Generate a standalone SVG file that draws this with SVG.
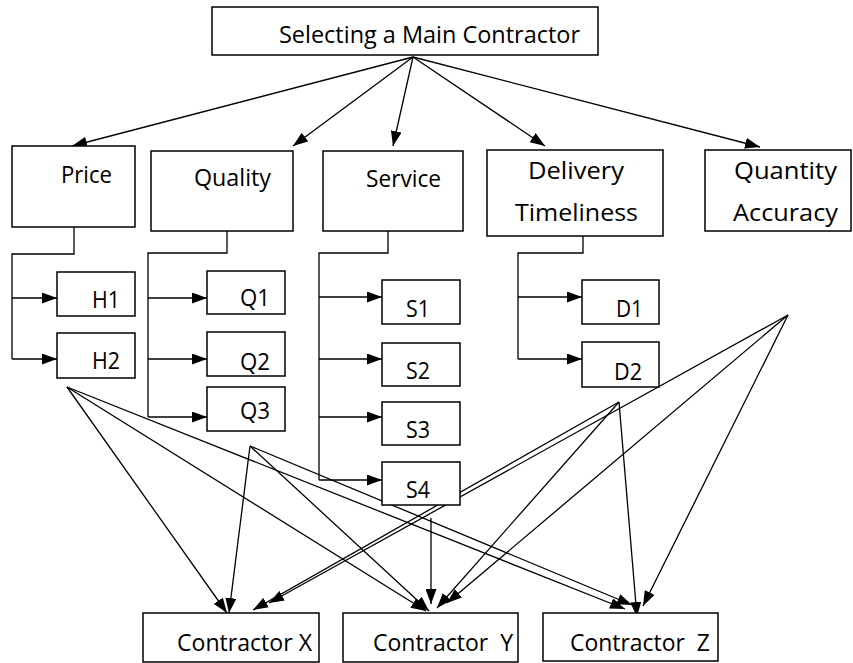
<svg xmlns="http://www.w3.org/2000/svg" width="853" height="663" viewBox="0 0 853 663">
  <style>
    .box { fill: #ffffff; stroke: #000000; stroke-width: 1.5; }
    .lbl { font-family: "Open Sans", "Noto Sans", "Liberation Sans", sans-serif; font-size: 24px; fill: #000000; }
    .wire { fill: none; stroke: #000000; stroke-width: 1.3; marker-end: url(#head); }
    .trunk { fill: none; stroke: #000000; stroke-width: 1.3; }
  </style>
  <defs>
    <marker id="head" viewBox="0 0 15 11" refX="15" refY="5.5" markerWidth="15" markerHeight="11" markerUnits="userSpaceOnUse" orient="auto">
      <path d="M0,0 L15,5.5 L0,11 z" fill="#000000"/>
    </marker>
  </defs>

  <rect width="853" height="663" fill="#ffffff"/>

  <!-- connectors -->
  <g id="connectors">
    <!-- goal to criteria -->
    <line class="wire" x1="413" y1="57" x2="72" y2="146"/>
    <line class="wire" x1="413" y1="57" x2="293" y2="146"/>
    <line class="wire" x1="413" y1="57" x2="393" y2="146"/>
    <line class="wire" x1="413" y1="57" x2="545" y2="146"/>
    <line class="wire" x1="413" y1="57" x2="760" y2="147"/>

    <!-- Price branch -->
    <path class="trunk" d="M74,227 V254 H12 V359"/>
    <line class="wire" x1="12" y1="298" x2="57" y2="298"/>
    <line class="wire" x1="12" y1="359" x2="57" y2="359"/>

    <!-- Quality branch -->
    <path class="trunk" d="M227,231 V253 H148 V417"/>
    <line class="wire" x1="148" y1="298" x2="207" y2="298"/>
    <line class="wire" x1="148" y1="359" x2="207" y2="359"/>
    <line class="wire" x1="148" y1="417" x2="207" y2="417"/>

    <!-- Service branch -->
    <path class="trunk" d="M388,231 V253 H319 V480"/>
    <line class="wire" x1="319" y1="297" x2="382" y2="297"/>
    <line class="wire" x1="319" y1="359" x2="382" y2="359"/>
    <line class="wire" x1="319" y1="417" x2="382" y2="417"/>
    <line class="wire" x1="319" y1="480" x2="382" y2="480"/>

    <!-- Delivery branch -->
    <path class="trunk" d="M583,236 V253 H518 V359"/>
    <line class="wire" x1="518" y1="297" x2="582" y2="297"/>
    <line class="wire" x1="518" y1="359" x2="582" y2="359"/>

    <!-- criteria to alternatives -->
    <line class="wire" x1="67" y1="387" x2="227" y2="613"/>
    <line class="wire" x1="67" y1="387" x2="426" y2="611"/>
    <line class="wire" x1="67" y1="387" x2="625" y2="609"/>

    <line class="wire" x1="250" y1="446" x2="229" y2="613"/>
    <line class="wire" x1="250" y1="446" x2="429" y2="611"/>
    <line class="wire" x1="250" y1="446" x2="632" y2="605"/>

    <line class="wire" x1="431" y1="518" x2="431" y2="604"/>

    <line class="wire" x1="619" y1="402" x2="253" y2="610"/>
    <line class="wire" x1="619" y1="402" x2="437" y2="608"/>
    <line class="wire" x1="619" y1="402" x2="637" y2="617"/>

    <line class="wire" x1="788" y1="315" x2="269" y2="603"/>
    <line class="wire" x1="788" y1="315" x2="447" y2="603"/>
    <line class="wire" x1="788" y1="315" x2="643" y2="606"/>
  </g>

  <!-- goal -->
  <g id="goal">
    <rect class="box" x="212" y="7" width="386" height="48"/>
    <text class="lbl" x="279" y="43" textLength="301" lengthAdjust="spacingAndGlyphs">Selecting a Main Contractor</text>
  </g>

  <!-- criteria -->
  <g id="price">
    <rect class="box" x="12" y="146" width="123" height="81"/>
    <text class="lbl" x="61" y="183" textLength="51" lengthAdjust="spacingAndGlyphs">Price</text>
  </g>
  <g id="quality">
    <rect class="box" x="151" y="151" width="142" height="80"/>
    <text class="lbl" x="194" y="186" textLength="77" lengthAdjust="spacingAndGlyphs">Quality</text>
  </g>
  <g id="service">
    <rect class="box" x="323" y="151" width="140" height="80"/>
    <text class="lbl" x="366" y="187" textLength="75" lengthAdjust="spacingAndGlyphs">Service</text>
  </g>
  <g id="delivery">
    <rect class="box" x="487" y="150" width="176" height="86"/>
    <text class="lbl" x="528" y="179" textLength="96" lengthAdjust="spacingAndGlyphs">Delivery</text>
    <text class="lbl" x="515" y="221" textLength="123" lengthAdjust="spacingAndGlyphs">Timeliness</text>
  </g>
  <g id="quantity">
    <rect class="box" x="705" y="150" width="146" height="81"/>
    <text class="lbl" x="734" y="179" textLength="103" lengthAdjust="spacingAndGlyphs">Quantity</text>
    <text class="lbl" x="733" y="221" textLength="105" lengthAdjust="spacingAndGlyphs">Accuracy</text>
  </g>

  <!-- sub-criteria -->
  <g id="h1"><rect class="box" x="57" y="272" width="78" height="44"/><text class="lbl" x="92" y="308" textLength="28" lengthAdjust="spacingAndGlyphs">H1</text></g>
  <g id="h2"><rect class="box" x="57" y="333" width="78" height="45"/><text class="lbl" x="92" y="369" textLength="28" lengthAdjust="spacingAndGlyphs">H2</text></g>

  <g id="q1"><rect class="box" x="207" y="271" width="78" height="43"/><text class="lbl" x="240" y="306" textLength="30" lengthAdjust="spacingAndGlyphs">Q1</text></g>
  <g id="q2"><rect class="box" x="207" y="332" width="78" height="44"/><text class="lbl" x="240" y="370" textLength="30" lengthAdjust="spacingAndGlyphs">Q2</text></g>
  <g id="q3"><rect class="box" x="207" y="387" width="78" height="44"/><text class="lbl" x="240" y="419" textLength="30" lengthAdjust="spacingAndGlyphs">Q3</text></g>

  <g id="s1"><rect class="box" x="382" y="280" width="78" height="44"/><text class="lbl" x="406" y="317" textLength="24" lengthAdjust="spacingAndGlyphs">S1</text></g>
  <g id="s2"><rect class="box" x="382" y="343" width="78" height="43"/><text class="lbl" x="406" y="379" textLength="24" lengthAdjust="spacingAndGlyphs">S2</text></g>
  <g id="s3"><rect class="box" x="382" y="402" width="78" height="43"/><text class="lbl" x="406" y="438" textLength="24" lengthAdjust="spacingAndGlyphs">S3</text></g>
  <g id="s4"><rect class="box" x="382" y="462" width="78" height="43"/><text class="lbl" x="406" y="498" textLength="24" lengthAdjust="spacingAndGlyphs">S4</text></g>

  <g id="d1"><rect class="box" x="582" y="280" width="77" height="44"/><text class="lbl" x="616" y="317" textLength="27" lengthAdjust="spacingAndGlyphs">D1</text></g>
  <g id="d2"><rect class="box" x="582" y="342" width="77" height="45"/><text class="lbl" x="614" y="380" textLength="28" lengthAdjust="spacingAndGlyphs">D2</text></g>

  <!-- alternatives -->
  <g id="contractor-x">
    <rect class="box" x="143" y="613" width="176" height="49"/>
    <text class="lbl" x="177" y="651" textLength="135" lengthAdjust="spacingAndGlyphs">Contractor X</text>
  </g>
  <g id="contractor-y">
    <rect class="box" x="343" y="613" width="175" height="49"/>
    <text class="lbl" x="373" y="651" textLength="140" lengthAdjust="spacingAndGlyphs" xml:space="preserve">Contractor  Y</text>
  </g>
  <g id="contractor-z">
    <rect class="box" x="543" y="613" width="175" height="48"/>
    <text class="lbl" x="570" y="651" textLength="140" lengthAdjust="spacingAndGlyphs" xml:space="preserve">Contractor  Z</text>
  </g>
</svg>
